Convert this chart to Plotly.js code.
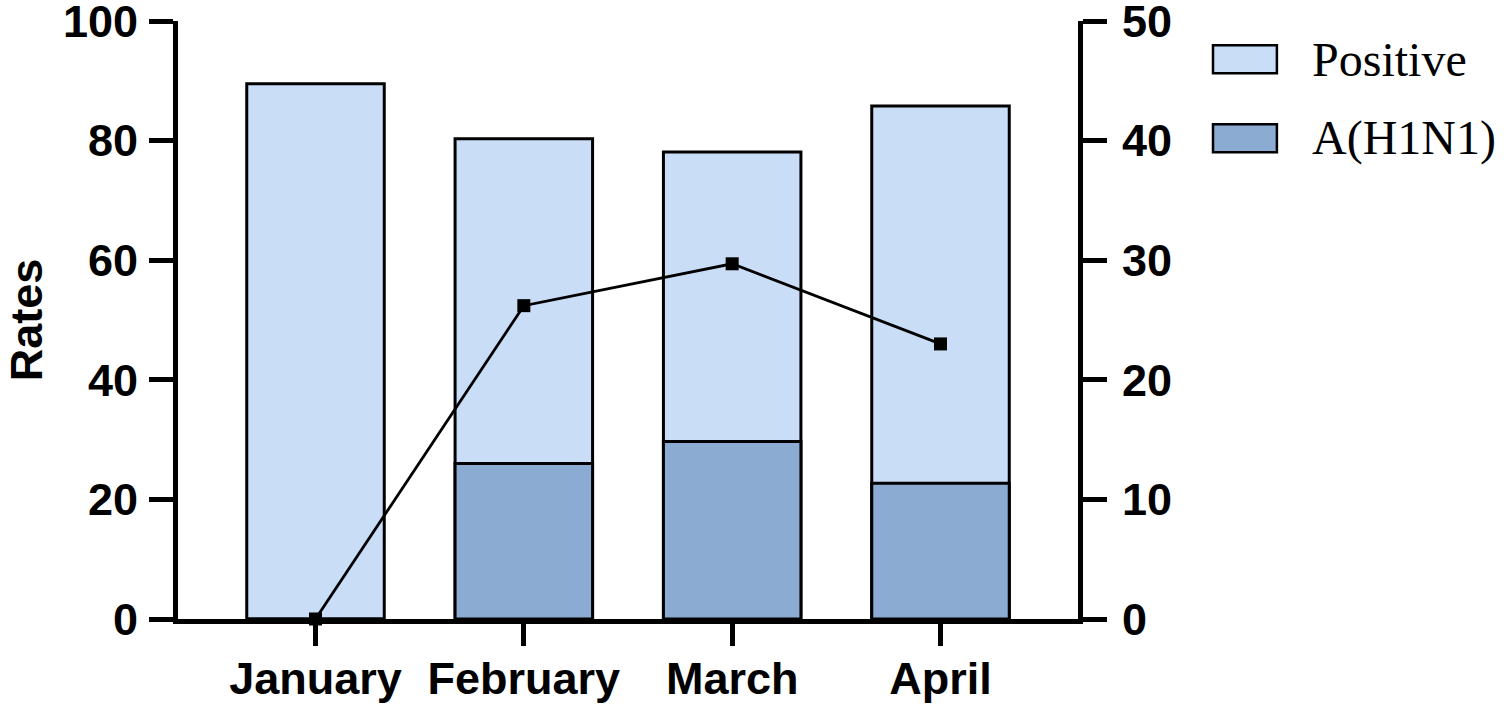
<!DOCTYPE html>
<html>
<head>
<meta charset="utf-8">
<script src="https://cdn.plot.ly/plotly-3.0.1.min.js"></script>
<style>html,body{margin:0;padding:0;background:#fff;}#chart{width:1506px;height:705px;}</style>
</head>
<body>
<div id="chart"></div>
<script>
const months = ["January", "February", "March", "April"];
const positive = [89.5, 80.3, 78.1, 85.8];
const h1n1 = [0, 26.0, 29.7, 22.7];
const h1n1Line = [0, 26.2, 29.7, 23.0];
const leftTicks = [0, 20, 40, 60, 80, 100];
const rightTicks = [0, 10, 20, 30, 40, 50];
const seriesNames = ["Positive", "A(H1N1)"];
const colors = ["#c9ddf7", "#8babd3"];

const tickFont = {family: "Liberation Sans, Arial, sans-serif", size: 45, color: "#000", weight: "bold"};
const legFont = {family: "Liberation Serif, Times New Roman, serif", size: 48, color: "#000"};

const traces = [
  {type: "bar", x: months, y: positive, name: seriesNames[0], width: 0.66,
   marker: {color: colors[0], line: {color: "#000", width: 3}}, showlegend: false, hoverinfo: "x+y"},
  {type: "bar", x: months, y: h1n1, name: seriesNames[1], width: 0.66,
   marker: {color: colors[1], line: {color: "#000", width: 3}}, showlegend: false, hoverinfo: "x+y"},
  {type: "scatter", mode: "lines+markers", x: months, y: h1n1Line, yaxis: "y2", cliponaxis: false,
   line: {color: "#000", width: 2.8}, marker: {symbol: "square", size: 13, color: "#000"},
   showlegend: false, hoverinfo: "x+y"}
];

// legend drawn as layout shapes/annotations (paper coordinates relative to plot area)
const legShapes = [];
const legAnn = [];
const legX0 = 1.150, legX1 = 1.221, legTextX = 1.258;
const legY = [0.936, 0.804];
seriesNames.forEach((n, i) => {
  legShapes.push({type: "rect", xref: "paper", yref: "paper",
    x0: legX0, x1: legX1, y0: legY[i] - 0.0234, y1: legY[i] + 0.0234,
    fillcolor: colors[i], line: {color: "#000", width: 2.5}});
  legAnn.push({xref: "paper", yref: "paper", x: legTextX, y: legY[i], xanchor: "left", yanchor: "middle",
    text: n, showarrow: false, font: legFont});
});

const layout = {
  width: 1506, height: 705,
  margin: {l: 178, r: 428, t: 21, b: 86},
  paper_bgcolor: "#fff", plot_bgcolor: "#fff",
  barmode: "overlay",
  showlegend: false,
  xaxis: {
    type: "category", range: [-0.66, 3.66],
    showline: true, linecolor: "#000", linewidth: 5,
    ticks: "outside", ticklen: 22, tickwidth: 5, tickcolor: "#000",
    tickfont: tickFont, ticklabelstandoff: -6, ticklabeloverflow: "allow",
    showgrid: false, zeroline: false, fixedrange: true
  },
  yaxis: {
    range: [0, 100], tickvals: leftTicks, ticktext: leftTicks.map(String),
    showline: true, linecolor: "#000", linewidth: 5,
    ticks: "outside", ticklen: 24, tickwidth: 5, tickcolor: "#000",
    tickfont: tickFont, ticklabeloverflow: "allow", ticklabelstandoff: 2,
    showgrid: false, zeroline: false,
    title: {text: "Rates", font: tickFont, standoff: 8},
    automargin: false
  },
  yaxis2: {
    overlaying: "y", side: "right", range: [0, 50],
    tickvals: rightTicks, ticktext: rightTicks.map(String),
    showline: true, linecolor: "#000", linewidth: 5,
    ticks: "outside", ticklen: 24, tickwidth: 5, tickcolor: "#000",
    tickfont: tickFont, ticklabeloverflow: "allow", ticklabelstandoff: 6,
    showgrid: false, zeroline: false
  },
  shapes: legShapes,
  annotations: legAnn
};

Plotly.newPlot("chart", traces, layout, {displayModeBar: false, staticPlot: true});
</script>
</body>
</html>
